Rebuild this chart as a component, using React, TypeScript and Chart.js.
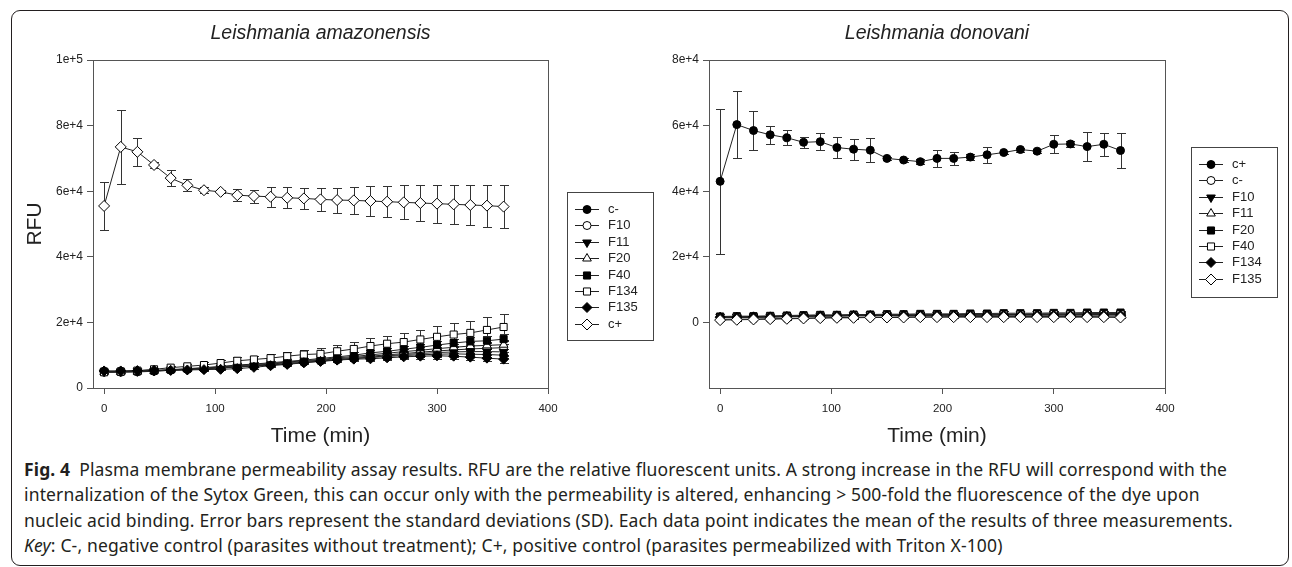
import React, { useEffect, useRef } from 'react';
import { Chart, registerables } from 'chart.js';
import { drawPoint } from 'chart.js/helpers';

Chart.register(...registerables);

// ---------- data ----------
const times = [0, 15, 30, 45, 60, 75, 90, 105, 120, 135, 150, 165, 180, 195, 210, 225, 240, 255, 270, 285, 300, 315, 330, 345, 360];
const xTicks = [0, 100, 200, 300, 400];
const yTicksLeft = [0, 20000, 40000, 60000, 80000, 100000];
const yTicksRight = [0, 20000, 40000, 60000, 80000];

// Leishmania amazonensis
const amaCminus = [5100, 5100, 5200, 5300, 5500, 5700, 5900, 6100, 6400, 6700, 7000, 7400, 7800, 8200, 8600, 9000, 9300, 9600, 9900, 10100, 10300, 10400, 10300, 10200, 10000];
const amaCminusErr = [200, 200, 200, 200, 300, 300, 300, 300, 400, 400, 400, 500, 500, 500, 600, 600, 700, 700, 700, 800, 800, 900, 900, 900, 1000];
const amaF10 = [4800, 4800, 4900, 5100, 5400, 5700, 6000, 6300, 6600, 6900, 7300, 7700, 8100, 8500, 8900, 9300, 9700, 10100, 10500, 10900, 11300, 11600, 11900, 12100, 12300];
const amaF10Err = [200, 200, 200, 300, 300, 300, 300, 400, 400, 400, 500, 500, 600, 600, 700, 700, 800, 800, 900, 900, 1000, 1000, 1100, 1100, 1200];
const amaF11 = [5000, 5000, 5100, 5200, 5400, 5600, 5800, 6100, 6400, 6700, 7100, 7400, 7800, 8200, 8600, 9000, 9400, 9800, 10200, 10500, 10800, 11000, 11100, 11100, 11000];
const amaF11Err = [200, 200, 200, 200, 300, 300, 300, 400, 400, 400, 500, 500, 500, 600, 600, 700, 700, 800, 800, 800, 900, 900, 1000, 1000, 1000];
const amaF20 = [4900, 4900, 5000, 5200, 5500, 5800, 6100, 6400, 6800, 7100, 7500, 7900, 8300, 8700, 9200, 9600, 10100, 10600, 11100, 11500, 12000, 12400, 12800, 13000, 13200];
const amaF20Err = [200, 200, 200, 200, 300, 300, 300, 400, 400, 500, 500, 500, 600, 600, 700, 700, 800, 800, 900, 900, 1000, 1000, 1100, 1100, 1200];
const amaF40 = [5000, 5000, 5100, 5300, 5600, 5900, 6200, 6600, 7000, 7300, 7700, 8100, 8500, 9000, 9500, 10000, 10700, 11200, 11800, 12400, 13100, 13700, 14200, 14400, 14900];
const amaF40Err = [200, 200, 200, 300, 300, 300, 400, 400, 500, 500, 600, 600, 700, 700, 800, 900, 900, 1000, 1100, 1100, 1200, 1300, 1300, 1400, 1500];
const amaF134 = [4800, 5000, 5300, 5700, 6200, 6600, 7000, 7600, 8300, 8700, 9100, 9700, 10200, 10400, 11200, 11900, 12800, 13500, 14000, 14800, 15600, 16300, 16800, 17700, 18600];
const amaF134Err = [300, 300, 400, 500, 600, 700, 800, 900, 1000, 1100, 1200, 1400, 1500, 1700, 1900, 2100, 2300, 2500, 2800, 3000, 3200, 3400, 3700, 3900, 4100];
const amaF135 = [5200, 5200, 5300, 5400, 5400, 5500, 5600, 5700, 5900, 6300, 6800, 7200, 7700, 8100, 8500, 8800, 8900, 9200, 9500, 9700, 9800, 9700, 9400, 9100, 8800];
const amaF135Err = [200, 200, 200, 200, 300, 300, 300, 300, 400, 400, 500, 500, 500, 600, 600, 600, 700, 700, 800, 800, 900, 900, 1000, 1000, 1100];
const amaCplus = [55500, 73500, 72000, 68000, 64000, 61800, 60300, 59800, 58800, 58500, 58300, 58000, 57800, 57500, 57300, 57200, 57000, 56800, 56600, 56400, 56200, 56000, 55800, 55600, 55300];
const amaCplusErr = [7200, 11300, 4300, 800, 2500, 1800, 1000, 500, 1800, 2000, 3000, 3200, 3300, 3500, 3800, 4200, 4500, 4800, 5200, 5500, 5800, 6000, 6200, 6400, 6600];

// Leishmania donovani
const donCplus = [43000, 60300, 58500, 57200, 56300, 54900, 55100, 53300, 52800, 52500, 50000, 49500, 49000, 50000, 50000, 50400, 51100, 51800, 52700, 52200, 54300, 54400, 53600, 54300, 52400];
const donCplusErr = [22000, 10200, 5800, 2700, 2300, 1700, 2500, 3300, 3200, 3700, 500, 500, 700, 2500, 2000, 1000, 2400, 600, 600, 600, 2800, 800, 4400, 3500, 5300];
const donCminus = [900, 1000, 1000, 1100, 1200, 1300, 1400, 1500, 1500, 1600, 1600, 1700, 1700, 1700, 1800, 1800, 1800, 1800, 1800, 1800, 1800, 1800, 1800, 1700, 1700];
const donCminusErr = [300, 300, 300, 300, 300, 300, 400, 400, 400, 400, 400, 400, 400, 400, 400, 400, 400, 400, 400, 400, 400, 400, 400, 400, 400];
const donF10 = [1700, 1700, 1800, 1800, 1900, 2000, 2100, 2100, 2200, 2200, 2300, 2300, 2300, 2400, 2400, 2400, 2500, 2500, 2500, 2600, 2600, 2600, 2700, 2700, 2700];
const donF10Err = [300, 300, 300, 300, 400, 400, 400, 400, 400, 400, 400, 400, 500, 500, 500, 500, 500, 500, 500, 500, 500, 500, 500, 500, 500];
const donF11 = [1400, 1500, 1500, 1600, 1700, 1800, 1900, 1900, 2000, 2000, 2100, 2100, 2100, 2200, 2200, 2200, 2200, 2300, 2300, 2300, 2300, 2300, 2400, 2400, 2400];
const donF11Err = [300, 300, 300, 300, 300, 400, 400, 400, 400, 400, 400, 400, 400, 400, 400, 400, 400, 400, 400, 400, 400, 400, 400, 400, 400];
const donF20 = [1800, 1900, 1900, 2000, 2100, 2200, 2300, 2300, 2400, 2400, 2500, 2500, 2600, 2600, 2600, 2700, 2700, 2800, 2800, 2800, 2900, 2900, 3000, 3000, 3000];
const donF20Err = [300, 300, 300, 400, 400, 400, 400, 400, 400, 500, 500, 500, 500, 500, 500, 500, 500, 600, 600, 600, 600, 600, 600, 600, 600];
const donF40 = [1500, 1600, 1600, 1700, 1800, 1900, 2000, 2000, 2100, 2100, 2200, 2200, 2200, 2300, 2300, 2300, 2300, 2400, 2400, 2400, 2500, 2500, 2500, 2500, 2500];
const donF40Err = [300, 300, 300, 300, 400, 400, 400, 400, 400, 400, 400, 400, 400, 400, 400, 400, 400, 400, 400, 400, 400, 400, 400, 400, 400];
const donF134 = [1600, 1600, 1700, 1700, 1800, 1900, 2000, 2000, 2100, 2100, 2100, 2200, 2200, 2200, 2200, 2200, 2200, 2200, 2200, 2200, 2200, 2200, 2200, 2200, 2200];
const donF134Err = [300, 300, 300, 300, 300, 300, 400, 400, 400, 400, 400, 400, 400, 400, 400, 400, 400, 400, 400, 400, 400, 400, 400, 400, 400];
const donF135 = [700, 800, 900, 1000, 1100, 1200, 1300, 1400, 1400, 1500, 1500, 1500, 1600, 1600, 1600, 1600, 1600, 1600, 1600, 1600, 1600, 1600, 1600, 1600, 1500];
const donF135Err = [300, 300, 300, 300, 300, 300, 300, 300, 300, 300, 300, 300, 300, 300, 300, 300, 300, 300, 300, 300, 300, 300, 300, 300, 300];

// ---------- styles ----------
const FONT = "'Liberation Sans', Arial, sans-serif";
const INK = '#222';
type Marker = { style: string; fill: string; rot?: number; r: number };
const M = {
  circleF: { style: 'circle', fill: '#000', r: 4 },
  circleO: { style: 'circle', fill: '#fff', r: 4 },
  triDownF: { style: 'triangle', fill: '#000', rot: 180, r: 5 },
  triUpO: { style: 'triangle', fill: '#fff', r: 5 },
  squareF: { style: 'rect', fill: '#000', r: 5 },
  squareO: { style: 'rect', fill: '#fff', r: 5 },
  diamondF: { style: 'rectRot', fill: '#000', r: 5 },
  diamondO: { style: 'rectRot', fill: '#fff', r: 5.5 },
};

function makeDataset(label: string, values: number[], errors: number[], m: Marker, order: number) {
  return {
    label,
    data: times.map((t, i) => ({ x: t, y: values[i] })),
    errors,
    order,
    borderColor: '#222',
    borderWidth: 1,
    pointStyle: m.style,
    pointRotation: m.rot || 0,
    pointRadius: m.r,
    pointBackgroundColor: m.fill,
    pointBorderColor: '#000',
    pointBorderWidth: 1,
    tension: 0,
    fill: false,
    clip: false,
  };
}

function sci(v: number) {
  if (v === 0) return '0';
  const e = Math.floor(Math.log10(Math.abs(v)) + 1e-9);
  const m = Math.round(v / Math.pow(10, e));
  return `${m}e+${e}`;
}

// ---------- plugins ----------
const errorBars = {
  id: 'errorBars',
  beforeDatasetsDraw(chart: any) {
    const ctx = chart.ctx;
    const ys = chart.scales.y;
    ctx.save();
    ctx.strokeStyle = '#333';
    ctx.lineWidth = 1;
    chart.data.datasets.forEach((d: any, i: number) => {
      if (!d.errors) return;
      const meta = chart.getDatasetMeta(i);
      meta.data.forEach((pt: any, j: number) => {
        const e = d.errors[j];
        if (!e) return;
        const v = d.data[j].y;
        const x = Math.round(pt.x) + 0.5;
        const y1 = Math.round(ys.getPixelForValue(v + e)) + 0.5;
        const y2 = Math.round(ys.getPixelForValue(v - e)) + 0.5;
        ctx.beginPath();
        ctx.moveTo(x, y1);
        ctx.lineTo(x, y2);
        ctx.moveTo(x - 4.5, y1);
        ctx.lineTo(x + 4.5, y1);
        ctx.moveTo(x - 4.5, y2);
        ctx.lineTo(x + 4.5, y2);
        ctx.stroke();
      });
    });
    ctx.restore();
  },
};

const plotBox = {
  id: 'plotBox',
  beforeDatasetsDraw(chart: any) {
    const { ctx, chartArea: a } = chart;
    ctx.save();
    ctx.strokeStyle = '#555';
    ctx.lineWidth = 1;
    ctx.strokeRect(Math.round(a.left) + 0.5, Math.round(a.top) + 0.5, Math.round(a.right - a.left), Math.round(a.bottom - a.top));
    ctx.restore();
  },
};

const boxLegend = {
  id: 'boxLegend',
  afterDraw(chart: any, _args: any, opts: any) {
    const ctx = chart.ctx;
    const { x, y, w, h, firstY, rowH, fontSize } = opts;
    ctx.save();
    ctx.strokeStyle = '#444';
    ctx.lineWidth = 1;
    ctx.strokeRect(x + 0.5, y + 0.5, w, h);
    chart.data.datasets.forEach((d: any, i: number) => {
      const cy = Math.round(y + firstY + i * rowH) + 0.5;
      ctx.strokeStyle = '#222';
      ctx.lineWidth = 1;
      ctx.beginPath();
      ctx.moveTo(x + 8, cy);
      ctx.lineTo(x + 32, cy);
      ctx.stroke();
      ctx.fillStyle = d.pointBackgroundColor;
      ctx.strokeStyle = '#000';
      drawPoint(ctx, { pointStyle: d.pointStyle, rotation: d.pointRotation, radius: d.pointRadius, borderWidth: 1 } as any, x + 20, cy);
      ctx.fillStyle = INK;
      ctx.font = `${fontSize}px ${FONT}`;
      ctx.textBaseline = 'middle';
      ctx.textAlign = 'left';
      ctx.fillText(d.label, x + 41, cy);
    });
    ctx.restore();
  },
};

function baseScales(yMin: number, yMax: number, yTicks: number[], yWidth: number, yTitle: string | null) {
  return {
    x: {
      type: 'linear',
      min: -10,
      max: 400,
      afterBuildTicks: (s: any) => { s.ticks = xTicks.map((v) => ({ value: v })); },
      afterFit: (s: any) => { s.height = 62; },
      grid: { drawOnChartArea: false, drawTicks: true, tickLength: 6, color: '#555' },
      border: { display: true, color: '#555' },
      ticks: { font: { family: FONT, size: 11.5 }, color: INK, padding: 8, maxRotation: 0, autoSkip: false },
      title: { display: true, text: 'Time (min)', font: { family: FONT, size: 21 }, color: INK, padding: { top: 0, bottom: 1.5 } },
    },
    y: {
      type: 'linear',
      min: yMin,
      max: yMax,
      afterBuildTicks: (s: any) => { s.ticks = yTicks.map((v) => ({ value: v })); },
      afterFit: (s: any) => { s.width = yWidth; },
      grid: { drawOnChartArea: false, drawTicks: true, tickLength: 6, color: '#555' },
      border: { display: true, color: '#555' },
      ticks: { font: { family: FONT, size: 12 }, color: INK, padding: 4, callback: (v: any) => sci(Number(v)), autoSkip: false },
      title: yTitle
        ? { display: true, text: yTitle, font: { family: FONT, size: 21 }, color: INK, padding: { top: 23, bottom: 0 } }
        : { display: false },
    },
  };
}

const titleFont = { family: FONT, size: 19.5, style: 'italic', weight: 'normal' };

function leftConfig(): any {
  const list: [string, number[], number[], Marker][] = [
    ['c-', amaCminus, amaCminusErr, M.circleF],
    ['F10', amaF10, amaF10Err, M.circleO],
    ['F11', amaF11, amaF11Err, M.triDownF],
    ['F20', amaF20, amaF20Err, M.triUpO],
    ['F40', amaF40, amaF40Err, M.squareF],
    ['F134', amaF134, amaF134Err, M.squareO],
    ['F135', amaF135, amaF135Err, M.diamondF],
    ['c+', amaCplus, amaCplusErr, M.diamondO],
  ];
  return {
    type: 'line',
    data: { datasets: list.map((l, i) => makeDataset(l[0], l[1], l[2], l[3], list.length - i)) },
    plugins: [errorBars, plotBox, boxLegend],
    options: {
      animation: false,
      responsive: false,
      maintainAspectRatio: false,
      events: [],
      layout: { padding: { left: 0, right: 112, top: 0, bottom: 0 } },
      plugins: {
        legend: { display: false },
        tooltip: { enabled: false },
        title: { display: true, fullSize: false, text: 'Leishmania amazonensis', color: INK, font: titleFont, padding: { top: 22.3, bottom: 14.3 } },
        boxLegend: { x: 567, y: 192, w: 86, h: 148, firstY: 17, rowH: 16.4, fontSize: 13 },
      },
      scales: baseScales(0, 100000, yTicksLeft, 93, 'RFU'),
    },
  };
}

function rightConfig(): any {
  const list: [string, number[], number[], Marker][] = [
    ['c+', donCplus, donCplusErr, M.circleF],
    ['c-', donCminus, donCminusErr, M.circleO],
    ['F10', donF10, donF10Err, M.triDownF],
    ['F11', donF11, donF11Err, M.triUpO],
    ['F20', donF20, donF20Err, M.squareF],
    ['F40', donF40, donF40Err, M.squareO],
    ['F134', donF134, donF134Err, M.diamondF],
    ['F135', donF135, donF135Err, M.diamondO],
  ];
  return {
    type: 'line',
    data: { datasets: list.map((l, i) => makeDataset(l[0], l[1], l[2], l[3], list.length - i)) },
    plugins: [errorBars, plotBox, boxLegend],
    options: {
      animation: false,
      responsive: false,
      maintainAspectRatio: false,
      events: [],
      layout: { padding: { left: 0, right: 127, top: 0, bottom: 0 } },
      plugins: {
        legend: { display: false },
        tooltip: { enabled: false },
        title: { display: true, fullSize: false, text: 'Leishmania donovani', color: INK, font: titleFont, padding: { top: 22.3, bottom: 14.3 } },
        boxLegend: { x: 531, y: 147, w: 86, h: 150, firstY: 17, rowH: 16.4, fontSize: 13 },
      },
      scales: baseScales(-20000, 80000, yTicksRight, 49, null),
    },
  };
}

function ChartCanvas({ config, left, width, height }: { config: () => any; left: number; width: number; height: number }) {
  const ref = useRef<HTMLCanvasElement | null>(null);
  useEffect(() => {
    if (!ref.current) return;
    const chart = new Chart(ref.current, config());
    return () => chart.destroy();
  }, [config]);
  return <canvas ref={ref} width={width} height={height} style={{ position: 'absolute', left, top: 0, width, height }} />;
}

const captionFont = "'Noto Sans', 'Open Sans', sans-serif";

export default function App() {
  const lineStyle: React.CSSProperties = { whiteSpace: 'nowrap', height: 25.3, lineHeight: '25.3px' };
  return (
    <div style={{ position: 'fixed', left: 0, top: 0, width: 1292, height: 567, background: '#fff', overflow: 'hidden' }}>
      <div style={{ position: 'absolute', left: 11, top: 10, width: 1278, height: 556, border: '1.3px solid #231f20', borderRadius: 9, boxSizing: 'border-box' }} />
      <ChartCanvas config={leftConfig} left={0} width={660} height={450} />
      <ChartCanvas config={rightConfig} left={660} width={632} height={450} />
      <div style={{ position: 'absolute', left: 24, top: 457, fontFamily: captionFont, fontSize: 17.5, letterSpacing: 0.15, color: '#231f20' }}>
        <div style={lineStyle}><b>Fig. 4</b>{'\u2002'}Plasma membrane permeability assay results. RFU are the relative fluorescent units. A strong increase in the RFU will correspond with the</div>
        <div style={lineStyle}>internalization of the Sytox Green, this can occur only with the permeability is altered, enhancing &gt; 500-fold the fluorescence of the dye upon</div>
        <div style={lineStyle}>nucleic acid binding. Error bars represent the standard deviations (SD). Each data point indicates the mean of the results of three measurements.</div>
        <div style={lineStyle}><i>Key</i>: C-, negative control (parasites without treatment); C+, positive control (parasites permeabilized with Triton X-100)</div>
      </div>
    </div>
  );
}
